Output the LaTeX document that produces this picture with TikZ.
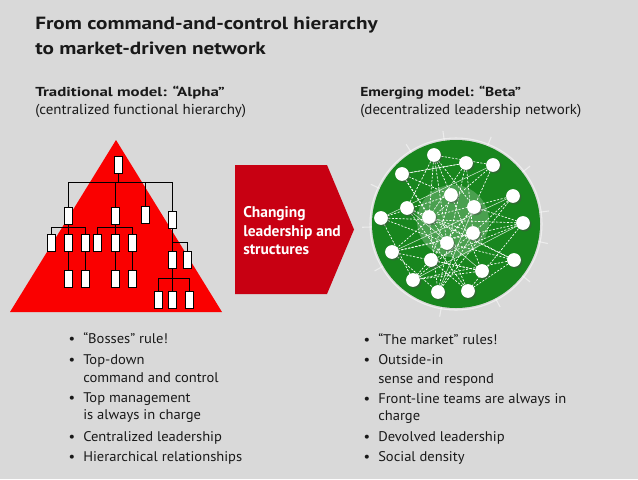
\documentclass[tikz,border=0pt]{standalone}
\usepackage{fontspec}
\setmainfont{PT Sans}[FakeStretch=1.04, BoldFeatures={FakeStretch=1.2}]
\newfontfamily\chgfont{PT Sans}[FakeStretch=1.0]
\usetikzlibrary{shadows}
\definecolor{bgc}{RGB}{217,217,217}
\definecolor{textc}{RGB}{25,25,25}
\definecolor{trired}{RGB}{250,0,0}
\definecolor{arrred}{RGB}{200,0,18}
\definecolor{netgreen}{RGB}{24,134,30}
\begin{document}
\begin{tikzpicture}[x=0.75pt,y=-0.75pt,
  box/.style={draw=black,fill=white,line width=0.5pt,minimum width=6pt,minimum height=12.5pt,inner sep=0pt},
  conn/.style={line width=0.7pt,draw=black},
  dot/.style={circle,fill=white,minimum size=10.3pt,inner sep=0pt,drop shadow={shadow xshift=1.2pt,shadow yshift=-1.2pt,opacity=0.45,fill=black!70}},
  netline/.style={draw=white,line width=0.5pt,dash pattern=on 1.6pt off 1.1pt},
  netsolid/.style={draw=white,line width=0.4pt,opacity=0.8},
  tick/.style={draw=white!85!gray,line width=0.8pt},
  txt/.style={anchor=base west,inner sep=0pt,text=textc,font=\fontsize{10.5}{12}\selectfont},
  ttl/.style={anchor=base west,inner sep=0pt,text=textc,font=\fontsize{13.25}{15}\selectfont\bfseries},
  sub/.style={anchor=base west,inner sep=0pt,text=textc,font=\fontsize{10.8}{12}\selectfont},
  subb/.style={sub,font=\fontsize{9.75}{12}\selectfont\bfseries},
  chg/.style={anchor=base west,inner sep=0pt,text=white,font=\chgfont\fontsize{11.6}{13}\selectfont\bfseries},
]
\useasboundingbox (0,0) rectangle (638,479);
\fill[bgc] (0,0) rectangle (638,479);

% Titles
\node[ttl] (t1) at (35,29) {From command-and-control hierarchy};
\node[ttl] (t2) at (35,54) {to market-driven network};
\node[subb] (s1) at (35,96) {\scalebox{1.08}[1]{Traditional model: “Alpha”}};
\node[sub] (s2) at (35,114) {(centralized functional hierarchy)};
\node[subb] (s3) at (360,96) {Emerging model: “Beta”};
\node[sub] (s4) at (360,114) {(decentralized leadership network)};

% Triangle hierarchy
\fill[trired] (116,140) -- (222,312) -- (10,312) -- cycle;
\coordinate (busA) at (0,182);
\coordinate (busB) at (0,227);
\coordinate (busD) at (0,242);
\coordinate (busE) at (0,278);
\node[box] (r) at (118,165) {};
\node[box] (A) at (68,216) {};
\node[box] (B) at (115,216) {};
\node[box] (C) at (145.5,215) {};
\node[box] (D) at (172,220) {};
\node[box] (a1) at (51,242.5) {};
\node[box] (a2) at (68,242.5) {};
\node[box] (a3) at (85.5,242.5) {};
\node[box] (a2c) at (68,279) {};
\node[box] (a3c) at (85.5,279) {};
\node[box] (b1) at (97,242.5) {};
\node[box] (b2) at (115,242.5) {};
\node[box] (b3) at (132,242.5) {};
\node[box] (b2c) at (115,279) {};
\node[box] (b3c) at (132,279) {};
\node[box] (d1) at (172,260) {};
\node[box] (d2) at (187.5,260) {};
\node[box] (e1) at (158,300) {};
\node[box] (e2) at (172,300) {};
\node[box] (e3) at (189,300) {};
\begin{scope}[conn]
\draw (r.south) -- (r.south |- busA);
\draw (A.north) -- (A.north |- busA) -| (D.north);
\draw (B.north) -- (B.north |- busA);
\draw (C.north) -- (C.north |- busA);
\draw (A.south) -- (a2.north);
\draw (a1.north) -- (a1.north |- busB) -| (a3.north);
\draw (a2.south) -- (a2c.north);
\draw (a3.south) -- (a3c.north);
\draw (B.south) -- (b2.north);
\draw (b1.north) -- (b1.north |- busB) -| (b3.north);
\draw (b2.south) -- (b2c.north);
\draw (b3.south) -- (b3c.north);
\draw (D.south) -- (d1.north);
\draw (d1.north |- busD) -| (d2.north);
\draw (d1.south) -- (e2.north);
\draw (e1.north) -- (e1.north |- busE) -| (e3.north);
\end{scope}

% Arrow
\fill[arrred] (235,165) -- (327,165) -- (354,229.5) -- (327,294) -- (235,294) -- cycle;
\node[chg] (c1) at (243,217) {Changing};
\node[chg] (c2) at (243,236) {leadership and};
\node[chg] (c3) at (243,254.5) {structures};

% Network
\foreach \a in {100,62,38,150,178,205,238,262,292,352,12,322}
  \draw[tick] (456,224) ++(\a:80) -- ++(\a:14);
\fill[netgreen] (456,224) circle[radius=84];
\draw[white,opacity=0.55,line width=0.8pt] (456,224) circle[radius=86];
\fill[white,opacity=0.22] (453,221) circle[radius=36];
\coordinate (n1) at (434,155);
\coordinate (n2) at (466,163);
\coordinate (n3) at (493,165);
\coordinate (n4) at (402,174);
\coordinate (n5) at (513,196);
\coordinate (n6) at (451,195);
\coordinate (n7) at (407,208);
\coordinate (n8) at (474,207);
\coordinate (n9) at (381,218);
\coordinate (n10) at (429,217);
\coordinate (n11) at (523,223);
\coordinate (n12) at (473,233);
\coordinate (n13) at (447,243);
\coordinate (n14) at (392,252);
\coordinate (n15) at (431,260);
\coordinate (n16) at (514,260);
\coordinate (n17) at (482,271);
\coordinate (n18) at (413,280);
\coordinate (n19) at (438,292);
\coordinate (n20) at (468,291);
\foreach \p/\q in {1/6,1/8,1/13,1/7,2/10,2/12,2/19,3/8,3/14,4/6,4/10,4/13,5/10,5/12,5/19,6/9,6/15,6/17,7/12,7/16,7/20,8/11,8/15,8/18,9/11,9/13,10/16,10/19,11/14,11/15,11/20,12/14,12/18,13/16,13/20,14/17,14/19,15/17,16/18,16/20,17/18,2/4,3/1,9/18,19/12,20/15,1/10}
  \draw[netline] (n\p) -- (n\q);
\foreach \p/\q in {9/3,4/2,14/5,18/11,19/8,7/17}
  \draw[netsolid] (n\p) -- (n\q);
\foreach \i in {1,...,20}
  \node[dot] (d\i) at (n\i) {};

% Bullet lists
\newcommand{\bl}{\llap{•\hspace{6pt}}}
\node[txt] (L1) at (83,343.5) {\bl“Bosses” rule!};
\node[txt] (L2) at (83,364) {\bl Top-down};
\node[txt] (L3) at (83,382) {command and control};
\node[txt] (L4) at (83,402) {\bl Top management};
\node[txt] (L5) at (83,419.5) {is always in charge};
\node[txt] (L6) at (83,441) {\bl Centralized leadership};
\node[txt] (L7) at (83,461) {\bl Hierarchical relationships};

\node[txt] (R1) at (378,344) {\bl“The market” rules!};
\node[txt] (R2) at (378,364) {\bl Outside-in};
\node[txt] (R3) at (378,383) {sense and respond};
\node[txt] (R4) at (378,403) {\bl Front-line teams are always in};
\node[txt] (R5) at (378,420) {charge};
\node[txt] (R6) at (378,441) {\bl Devolved leadership};
\node[txt] (R7) at (378,461) {\bl Social density};
\end{tikzpicture}
\end{document}
